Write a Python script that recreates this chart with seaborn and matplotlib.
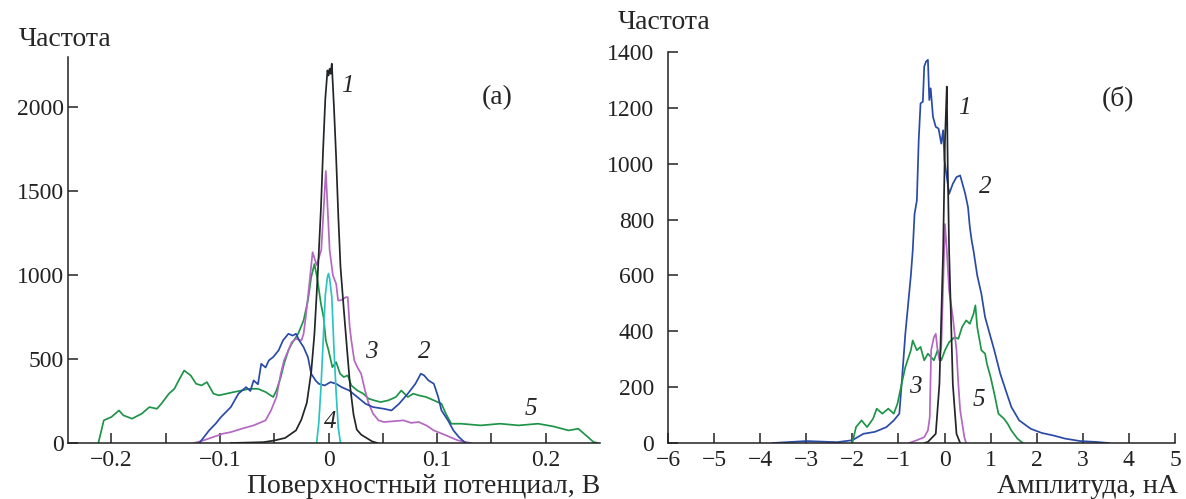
import numpy as np
import matplotlib
matplotlib.use("Agg")
import matplotlib.pyplot as plt
import seaborn as sns

# ---- panel (a): surface potential histograms ----
a1_x = [-0.09, -0.06, -0.05, -0.04, -0.03, -0.025, -0.02, -0.016, -0.013, -0.01, -0.007, -0.005,
        -0.003, -0.001, 0.0, 0.001, 0.002, 0.003, 0.005, 0.007, 0.009, 0.011, 0.014, 0.017,
        0.02, 0.023, 0.026, 0.03, 0.035, 0.04, 0.045]
a1_y = [0, 5, 15, 30, 75, 140, 240, 420, 650, 1000, 1400, 1750, 2050, 2220, 2190, 2230, 2200,
        2260, 2000, 1700, 1350, 1050, 800, 560, 330, 170, 80, 50, 30, 10, 0]

a2_x = [-0.119, -0.11, -0.104, -0.099, -0.09, -0.083, -0.076, -0.072, -0.069, -0.065, -0.062,
        -0.058, -0.055, -0.051, -0.046, -0.042, -0.037, -0.033, -0.03, -0.027, -0.023, -0.019,
        -0.016, -0.012, -0.009, -0.0035, 0.0018, 0.007, 0.012, 0.019, 0.0265, 0.034, 0.041,
        0.051, 0.058, 0.065, 0.073, 0.08, 0.085, 0.088, 0.092, 0.097, 0.101, 0.104, 0.11,
        0.115, 0.12, 0.126]
a2_y = [0, 75, 115, 155, 214, 294, 333, 310, 373, 350, 472, 450, 492, 512, 552, 611, 651, 640,
        651, 611, 571, 512, 413, 373, 353, 343, 363, 353, 333, 313, 274, 234, 214, 204, 194, 234,
        294, 353, 413, 403, 373, 353, 274, 194, 135, 75, 36, 0]

a3_x = [-0.124, -0.115, -0.106, -0.097, -0.09, -0.08, -0.069, -0.058, -0.053, -0.048, -0.044,
        -0.041, -0.037, -0.034, -0.03, -0.025, -0.023, -0.021, -0.0177, -0.0147, -0.011,
        -0.0067, -0.0025, 0.001, 0.004, 0.007, 0.0088, 0.011, 0.014, 0.016, 0.0177, 0.0195,
        0.021, 0.0237, 0.0265, 0.03, 0.0336, 0.037, 0.041, 0.046, 0.051, 0.06, 0.069, 0.076,
        0.083, 0.09, 0.097, 0.108, 0.119, 0.131]
a3_y = [0, 16, 36, 56, 65, 85, 105, 135, 194, 274, 413, 492, 552, 600, 621, 611, 650, 750, 948,
        1137, 1060, 1150, 1621, 1150, 1000, 948, 849, 850, 860, 869, 869, 690, 611, 492, 452,
        413, 313, 234, 175, 135, 125, 130, 135, 120, 125, 105, 75, 46, 16, 0]

a4_x = [-0.011, -0.009, -0.007, -0.005, -0.003, -0.001, 0.0, 0.001, 0.003, 0.005, 0.007, 0.009, 0.011]
a4_y = [0, 120, 330, 600, 880, 990, 1010, 980, 870, 560, 300, 90, 0]

a5_x = [-0.212, -0.207, -0.2, -0.193, -0.189, -0.181, -0.172, -0.165, -0.158, -0.154, -0.147,
        -0.142, -0.138, -0.133, -0.127, -0.122, -0.117, -0.112, -0.106, -0.101, -0.094, -0.087,
        -0.08, -0.073, -0.065, -0.058, -0.051, -0.048, -0.044, -0.041, -0.037, -0.034, -0.028,
        -0.023, -0.019, -0.016, -0.013, -0.0106, -0.007, -0.0046, -0.0025, 0.0, 0.0035, 0.007,
        0.0106, 0.014, 0.0177, 0.021, 0.0265, 0.032, 0.037, 0.042, 0.048, 0.055, 0.062, 0.067,
        0.073, 0.078, 0.083, 0.09, 0.097, 0.104, 0.108, 0.113, 0.122, 0.14, 0.158, 0.175, 0.193,
        0.207, 0.221, 0.23, 0.237, 0.244, 0.248]
a5_y = [0, 135, 155, 194, 165, 145, 175, 214, 204, 234, 294, 323, 373, 432, 403, 353, 343, 363,
        294, 284, 294, 304, 313, 323, 323, 304, 274, 313, 393, 472, 552, 591, 651, 730, 849, 988,
        1067, 988, 829, 750, 611, 552, 452, 482, 413, 393, 403, 343, 313, 294, 264, 254, 244, 254,
        274, 313, 274, 294, 284, 274, 254, 234, 175, 115, 115, 105, 115, 105, 115, 99, 75, 85,
        46, 6, 0]

# ---- panel (б): amplitude histograms ----
b1_x = [-0.44, -0.36, -0.19, -0.11, -0.03, 0.01, 0.04, 0.05, 0.07, 0.1, 0.14, 0.18, 0.26, 0.34]
b1_y = [0, 4, 33, 212, 688, 1084, 1228, 1276, 988, 688, 451, 212, 33, 0]

b2_x = [-3.73, -3.0, -2.33, -2.0, -1.76, -1.51, -1.26, -1.1, -0.98, -0.93, -0.85, -0.73, -0.69,
        -0.65, -0.6, -0.56, -0.52, -0.47, -0.44, -0.4, -0.36, -0.33, -0.3, -0.25, -0.19, -0.13,
        -0.07, -0.03, 0.0, 0.1, 0.18, 0.26, 0.34, 0.38, 0.45, 0.51, 0.55, 0.59, 0.63, 0.71, 0.8,
        0.88, 0.96, 1.08, 1.21, 1.33, 1.45, 1.62, 1.87, 2.11, 2.36, 2.61, 2.94, 3.27, 3.56]
b2_y = [0, 7, 3, 10, 33, 40, 57, 81, 105, 212, 391, 600, 688, 820, 868, 1084, 1216, 1222, 1348,
        1366, 1372, 1228, 1270, 1168, 1132, 1126, 1072, 1120, 1012, 892, 928, 952, 958, 934, 892,
        844, 772, 724, 688, 600, 534, 451, 403, 332, 248, 188, 129, 81, 51, 36, 27, 16, 7, 4, 0]

b3_x = [-0.77, -0.6, -0.44, -0.36, -0.32, -0.29, -0.23, -0.19, -0.15, -0.11, -0.07, 0.01, 0.05,
        0.1, 0.18, 0.26, 0.3, 0.34, 0.43, 0.47]
b3_y = [0, 10, 21, 45, 93, 332, 379, 391, 332, 296, 344, 784, 690, 546, 451, 332, 212, 117, 21, 0]

b5_x = [-2.0, -1.92, -1.8, -1.68, -1.55, -1.47, -1.35, -1.22, -1.1, -1.02, -0.93, -0.85, -0.73,
        -0.69, -0.6, -0.52, -0.44, -0.36, -0.23, -0.15, -0.07, 0.01, 0.1, 0.22, 0.3, 0.38, 0.47,
        0.55, 0.63, 0.67, 0.71, 0.8, 0.88, 0.92, 1.0, 1.08, 1.17, 1.29, 1.37, 1.45, 1.58, 1.7]
b5_y = [0, 57, 81, 57, 87, 123, 105, 123, 105, 141, 212, 272, 332, 367, 332, 344, 296, 320, 296,
        332, 296, 332, 361, 379, 373, 415, 439, 427, 463, 493, 415, 332, 320, 284, 236, 177, 105,
        87, 69, 45, 16, 0]

C_BLACK = "#222629"
C_BLUE = "#2a4aa8"
C_MAG = "#b468c2"
C_GREEN = "#1e9448"
C_CYAN = "#2cc4c2"

sns.set_style("ticks")
plt.rcParams["font.family"] = ["Liberation Serif", "DejaVu Serif"]

fig = plt.figure(figsize=(11.86, 4.99), dpi=100)
ax1 = fig.add_axes([0.0573, 0.1122, 0.4486, 0.7735])
ax2 = fig.add_axes([0.5632, 0.1122, 0.4275, 0.7836])

lw = 1.25
for xs, ys, c in [(a5_x, a5_y, C_GREEN), (a3_x, a3_y, C_MAG), (a2_x, a2_y, C_BLUE),
                  (a1_x, a1_y, C_BLACK), (a4_x, a4_y, C_CYAN)]:
    sns.lineplot(x=xs, y=ys, ax=ax1, color=c, lw=lw, estimator=None)
for xs, ys, c in [(b2_x, b2_y, C_BLUE), (b5_x, b5_y, C_GREEN), (b3_x, b3_y, C_MAG),
                  (b1_x, b1_y, C_BLACK)]:
    sns.lineplot(x=xs, y=ys, ax=ax2, color=c, lw=lw, estimator=None)

ax1.set_xlim(-0.24, 0.25)
ax1.set_ylim(0, 2300)
ax1.set_xticks([-0.2, -0.1, 0, 0.1, 0.2])
ax1.set_xticklabels(["\u22120.2", "\u22120.1", "0", "0.1", "0.2"])
ax1.set_xticks(np.arange(-0.15, 0.25, 0.1), minor=True)
ax1.set_yticks([0, 500, 1000, 1500, 2000])

ax2.set_xlim(-6, 5)
ax2.set_ylim(0, 1400)
ax2.set_xticks(range(-6, 6))
ax2.set_xticklabels([("\u2212" + str(-t)) if t < 0 else str(t) for t in range(-6, 6)])
ax2.set_yticks(range(0, 1401, 200))

tfs = 17
for ax in (ax1, ax2):
    sns.despine(ax=ax)
    ax.tick_params(axis="both", which="both", direction="in", labelsize=tfs, colors="#222222",
                   width=1.1)
    ax.tick_params(axis="both", which="major", length=7)
    ax.tick_params(axis="x", which="minor", length=7)
    ax.tick_params(axis="x", pad=5)
    ax.tick_params(axis="y", pad=3)
    for s in ("left", "bottom"):
        ax.spines[s].set_linewidth(1.1)
        ax.spines[s].set_color("#222222")
    ax.set_xlabel("")
    ax.set_ylabel("")
ax2.tick_params(axis="y", pad=10)

fs = 20
fig.text(0.016, 0.92, "Частота", fontsize=fs, ha="left", va="center")
fig.text(0.521, 0.955, "Частота", fontsize=fs, ha="left", va="center")
fig.text(0.506, 0.025, "Поверхностный потенциал, В", fontsize=fs, ha="right", va="center")
fig.text(0.993, 0.025, "Амплитуда, нА", fontsize=fs, ha="right", va="center")

nfs = 18
ax1.text(0.0177, 2128, "1", fontsize=nfs, style="italic", ha="center", va="center")
ax1.text(0.039, 541, "3", fontsize=nfs, style="italic", ha="center", va="center")
ax1.text(0.0885, 541, "2", fontsize=nfs, style="italic", ha="center", va="center")
ax1.text(0.0018, 125, "4", fontsize=nfs, style="italic", ha="center", va="center")
ax1.text(0.186, 204, "5", fontsize=nfs, style="italic", ha="center", va="center")
ax1.text(0.155, 2060, "(а)", fontsize=fs, ha="center", va="center")

ax2.text(0.425, 1198, "1", fontsize=nfs, style="italic", ha="center", va="center")
ax2.text(0.88, 916, "2", fontsize=nfs, style="italic", ha="center", va="center")
ax2.text(-0.63, 200, "3", fontsize=nfs, style="italic", ha="center", va="center")
ax2.text(0.75, 153, "5", fontsize=nfs, style="italic", ha="center", va="center")
ax2.text(3.76, 1234, "(б)", fontsize=fs, ha="center", va="center")

fig.savefig("out.png", dpi=100)
